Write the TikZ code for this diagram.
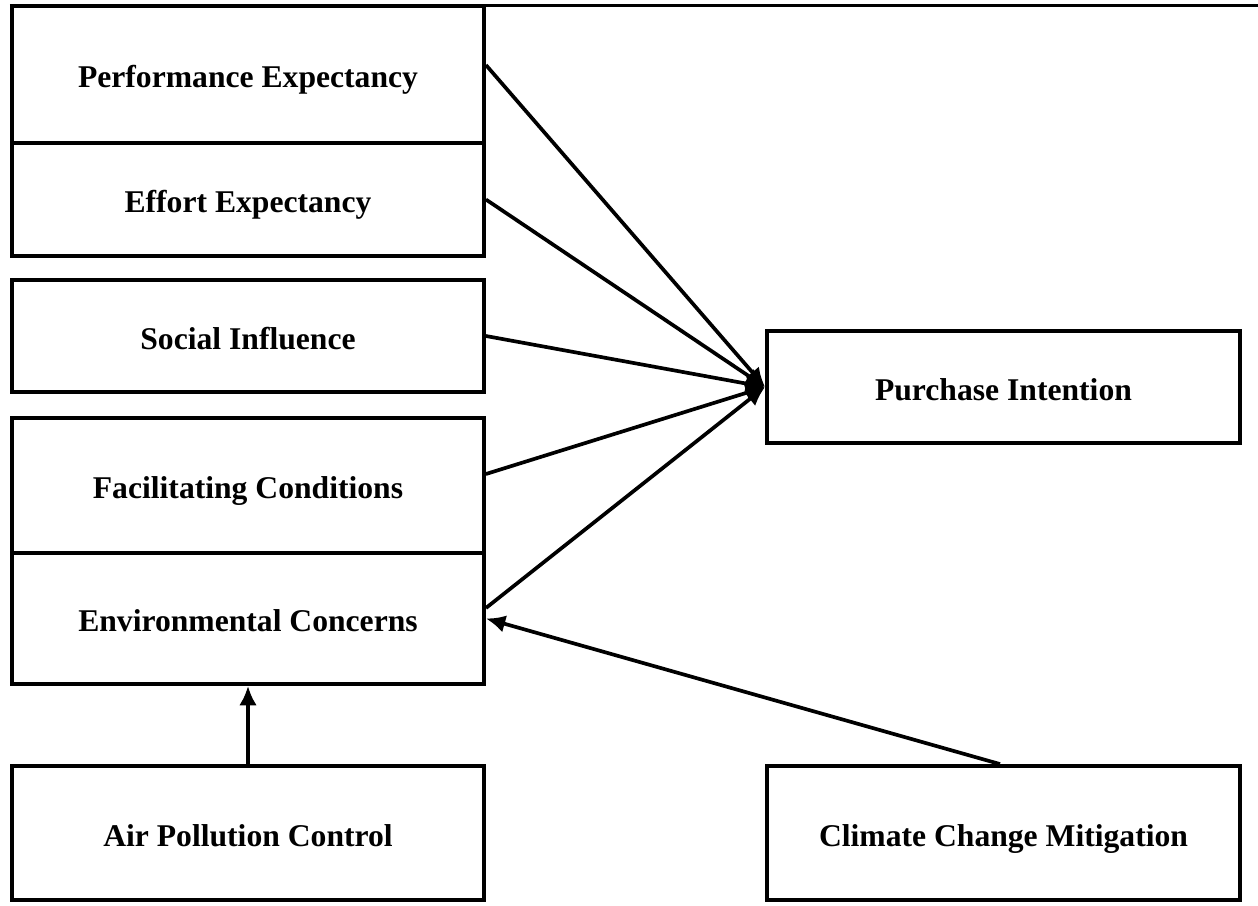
\documentclass[tikz,border=0pt]{standalone}
\usepackage{fontspec}
\setmainfont{Liberation Serif}
\usepackage{tikz}
\usetikzlibrary{arrows.meta}
\usetikzlibrary{positioning}

\begin{document}
\begin{tikzpicture}[
	construct/.style={draw,line width=2.2pt,minimum width=9.44cm,inner sep=0pt,
		text height=15pt,text depth=0pt,font=\fontsize{18}{22}\selectfont\bfseries},
	path arrow/.style={line width=2.1pt,-{Latex[length=11pt,width=10pt]}}]
	\useasboundingbox (0,0) rectangle (25.16,-18.12);
	\draw [line width=2.2pt](0.2,-0.11) -- (25.16,-0.11);
	% left column
	\node[construct,minimum height=2.75cm] (pe) at (4.96,-1.49) {Performance Expectancy};
	\node[construct,minimum height=2.26cm] (ee) at (4.96,-3.99) {Effort Expectancy};
	\node[construct,minimum height=2.24cm] (si) at (4.96,-6.72) {Social Influence};
	\node[construct,minimum height=2.70cm] (fc) at (4.96,-9.71) {Facilitating Conditions};
	\node[construct,minimum height=2.62cm] (ec) at (4.96,-12.37) {Environmental Concerns};
	\node[construct,minimum height=2.68cm] (apc) at (4.96,-16.66) {Air Pollution Control};
	% right column
	\node[construct,minimum width=9.46cm,minimum height=2.24cm] (pi) at (20.07,-7.74) {Purchase Intention};
	\node[construct,minimum width=9.46cm,minimum height=2.68cm] (ccm) at (20.07,-16.66) {Climate Change Mitigation};
	% paths
	\draw[path arrow] ([yshift=0.19cm]pe.east) -- (pi.west);
	\draw[path arrow] (ee.east) -- (pi.west);
	\draw[path arrow] (si.east) -- (pi.west);
	\draw[path arrow] ([yshift=0.23cm]fc.east) -- (pi.west);
	\draw[path arrow] ([yshift=0.21cm]ec.east) -- (pi.west);
	\draw[path arrow] ([xshift=-0.07cm]ccm.north) -- (ec.east);
	\draw[path arrow] (apc.north) -- (ec.south);
\end{tikzpicture}
\end{document}
